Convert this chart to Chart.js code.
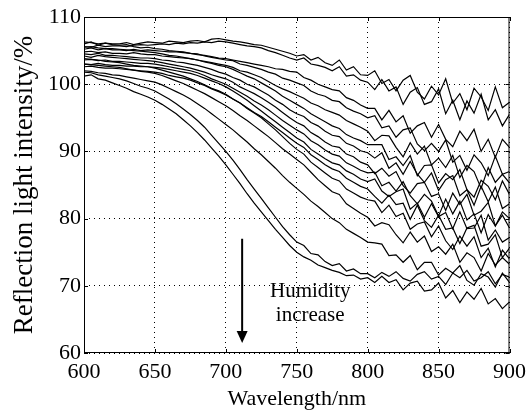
<!DOCTYPE html>
<html>
<head>
<meta charset="utf-8">
<script src="https://cdn.jsdelivr.net/npm/chart.js@4.4.1/dist/chart.umd.min.js"></script>
<style>
  html, body { margin: 0; padding: 0; background: #fff; }
  #wrap { width: 532px; height: 413px; }
</style>
</head>
<body>
<div id="wrap"><canvas id="chart" width="532" height="413"></canvas></div>
<script>
// wavelength samples (nm)
const wavelengths = [
  600, 605, 610, 615, 620, 625, 630, 635, 640, 645,
  650, 655, 660, 665, 670, 675, 680, 685, 690, 695,
  700, 705, 710, 715, 720, 725, 730, 735, 740, 745,
  750, 755, 760, 765, 770, 775, 780, 785, 790, 795,
  800, 805, 810, 815, 820, 825, 830, 835, 840, 845,
  850, 855, 860, 865, 870, 875, 880, 885, 890, 895,
  900
];

const xTicks = [600, 650, 700, 750, 800, 850, 900];
const yTicks = [60, 70, 80, 90, 100, 110];

// reflection intensity (%), one array per humidity level, low -> high humidity
const curve1 = [
  106.0, 106.3, 105.8, 106.1, 106.0, 106.0, 106.2, 105.9, 106.1, 106.3,
  106.2, 106.1, 106.4, 106.3, 106.2, 106.4, 106.5, 106.3, 106.7, 106.8,
  106.6, 106.4, 106.3, 106.1, 105.9, 105.8, 105.5, 105.2, 104.9, 104.6,
  104.2, 104.4, 103.6, 104.0, 103.2, 102.8, 103.6, 102.1, 102.6, 101.4,
  101.3, 102.0, 100.1, 100.7, 99.0, 100.6, 101.3, 98.8, 97.8, 99.7,
  98.4, 100.8, 97.2, 98.6, 96.2, 99.4, 98.1, 96.1, 99.6, 96.5,
  97.3
];
const curve2 = [
  105.6, 105.5, 105.8, 105.6, 105.7, 105.7, 105.6, 105.8, 105.9, 105.8,
  105.9, 106.0, 105.9, 106.1, 106.0, 106.2, 106.1, 106.3, 106.2, 106.4,
  106.3, 106.1, 105.9, 105.7, 105.6, 105.4, 105.0, 104.7, 104.3, 103.9,
  103.6, 103.9, 103.0, 102.8, 102.5, 102.0, 102.6, 101.2, 101.4, 100.6,
  100.3, 99.2, 100.7, 99.0, 99.6, 97.0, 98.8, 99.5, 97.0, 97.4,
  99.3, 95.6, 97.6, 94.7, 97.5, 95.7, 98.5, 94.7, 96.2, 93.8,
  95.5
];
const curve3 = [
  105.2, 105.4, 105.1, 105.3, 105.1, 105.1, 105.0, 105.2, 105.0, 105.1,
  105.0, 104.9, 104.8, 104.8, 104.7, 104.6, 104.4, 104.3, 104.1, 103.9,
  103.8, 103.6, 103.4, 103.2, 103.0, 102.8, 102.6, 102.3, 102.2, 101.9,
  101.8, 101.0, 100.6, 100.0, 99.6, 99.2, 99.0, 98.0, 97.6, 96.9,
  96.4, 96.4, 94.7, 96.1, 94.4, 95.3, 92.7, 93.8, 94.3, 92.1,
  94.0, 91.8, 90.7, 93.0, 91.6, 93.3, 90.0, 91.8, 89.1, 91.8,
  90.6
];
const curve4 = [
  106.3, 106.2, 106.0, 106.1, 105.9, 105.8, 105.9, 105.6, 105.4, 105.5,
  105.3, 105.2, 105.0, 104.9, 104.8, 104.6, 104.5, 104.2, 104.0, 103.8,
  103.6, 103.5, 103.0, 102.8, 102.5, 102.2, 101.8, 101.5, 100.9, 100.6,
  100.2, 99.8, 99.0, 98.5, 98.2, 97.6, 97.4, 96.5, 96.0, 95.6,
  95.0, 95.3, 93.5, 93.8, 92.1, 93.2, 93.5, 91.1, 90.1, 91.2,
  90.0, 91.7, 88.4, 89.4, 87.2, 89.5, 88.3, 86.4, 89.3, 86.6,
  87.0
];
const curve5 = [
  104.8, 104.9, 104.7, 104.8, 104.6, 104.6, 104.5, 104.7, 104.5, 104.4,
  104.4, 104.2, 104.1, 104.0, 103.9, 103.8, 103.6, 103.4, 103.2, 103.0,
  102.8, 102.5, 102.0, 101.8, 101.4, 101.0, 100.4, 99.8, 99.3, 98.9,
  98.4, 97.9, 97.2, 96.8, 96.2, 95.8, 95.4, 94.6, 94.1, 93.6,
  93.0, 91.6, 92.4, 92.3, 90.6, 89.2, 91.3, 89.6, 90.8, 88.0,
  89.0, 87.6, 89.4, 86.1, 87.9, 87.0, 84.5, 87.6, 85.4, 86.6,
  85.3
];
const curve6 = [
  105.5, 105.6, 105.4, 105.3, 105.3, 105.2, 105.1, 105.0, 104.9, 104.8,
  104.7, 104.5, 104.3, 104.2, 104.0, 103.8, 103.6, 103.3, 103.1, 102.8,
  102.6, 102.2, 101.7, 101.2, 100.8, 100.2, 99.6, 99.0, 98.2, 97.6,
  97.0, 96.4, 95.6, 95.0, 94.4, 93.8, 93.4, 92.5, 92.0, 91.6,
  91.0, 91.0, 91.0, 88.8, 89.2, 87.9, 89.4, 86.4, 87.9, 88.0,
  85.3, 86.7, 85.8, 87.3, 84.3, 83.2, 85.7, 84.8, 82.8, 85.6,
  83.6
];
const curve7 = [
  104.5, 104.4, 104.6, 104.3, 104.3, 104.2, 104.1, 104.0, 103.9, 103.9,
  103.8, 103.6, 103.5, 103.3, 103.2, 103.0, 102.8, 102.5, 102.2, 101.8,
  101.5, 101.0, 100.6, 100.0, 99.6, 99.0, 98.4, 97.6, 97.0, 96.2,
  95.6, 95.2, 94.3, 93.8, 93.0, 92.4, 92.2, 91.2, 90.8, 90.1,
  89.8, 89.0, 89.8, 87.5, 88.3, 86.6, 88.5, 86.6, 85.4, 86.8,
  84.2, 85.8, 86.4, 83.4, 84.3, 82.0, 84.8, 82.5, 84.7, 81.5,
  82.2
];
const curve8 = [
  104.2, 104.0, 104.3, 104.1, 104.0, 103.9, 103.8, 103.7, 103.6, 103.5,
  103.4, 103.2, 103.0, 102.8, 102.6, 102.4, 102.1, 101.8, 101.4, 101.1,
  100.8, 100.3, 99.6, 99.1, 98.6, 98.0, 97.3, 96.6, 95.8, 95.0,
  94.3, 93.8, 92.8, 92.2, 91.4, 90.8, 90.6, 89.6, 89.2, 88.4,
  88.0, 86.7, 87.5, 86.3, 87.0, 84.9, 83.8, 85.2, 85.4, 83.3,
  83.7, 81.2, 83.8, 82.1, 83.6, 80.5, 81.1, 82.4, 78.9, 81.0,
  80.0
];
const curve9 = [
  103.6, 103.7, 103.5, 103.6, 103.4, 103.4, 103.3, 103.2, 103.1, 103.1,
  103.0, 102.8, 102.6, 102.4, 102.2, 102.0, 101.7, 101.3, 100.8, 100.4,
  100.0, 99.4, 98.8, 98.2, 97.5, 96.9, 96.2, 95.4, 94.6, 93.9,
  93.2, 92.6, 91.6, 91.0, 90.2, 89.6, 89.3, 88.3, 87.8, 87.2,
  86.8, 86.9, 84.9, 85.4, 84.1, 85.5, 83.4, 82.2, 83.6, 82.6,
  80.4, 82.9, 80.7, 82.6, 79.8, 80.7, 77.9, 80.6, 78.9, 80.5,
  78.6
];
const curve10 = [
  103.0, 102.9, 103.1, 102.9, 102.8, 102.8, 102.7, 102.7, 102.6, 102.6,
  102.5, 102.4, 102.2, 102.0, 101.8, 101.6, 101.3, 100.9, 100.5, 100.1,
  99.6, 99.0, 98.3, 97.6, 96.8, 96.0, 95.2, 94.4, 93.6, 92.8,
  92.0, 91.4, 90.3, 89.6, 88.9, 88.3, 88.0, 87.1, 86.6, 85.9,
  85.5, 85.9, 84.1, 83.3, 84.0, 84.4, 81.4, 82.3, 80.2, 82.2,
  80.3, 80.9, 78.5, 81.0, 78.5, 78.6, 80.5, 76.8, 78.3, 76.5,
  77.2
];
const curve11 = [
  102.6, 102.7, 102.5, 102.4, 102.4, 102.3, 102.2, 102.1, 102.0, 101.9,
  101.8, 101.6, 101.3, 101.1, 100.9, 100.6, 100.2, 99.8, 99.3, 98.9,
  98.4, 97.8, 97.2, 96.5, 95.8, 95.2, 94.4, 93.6, 92.8, 92.0,
  91.2, 90.6, 89.5, 88.8, 88.0, 87.4, 87.0, 86.0, 85.4, 84.8,
  84.4, 83.3, 82.3, 83.5, 82.1, 82.3, 79.9, 82.0, 79.7, 78.7,
  80.5, 78.4, 78.6, 76.3, 78.6, 79.0, 75.9, 76.2, 77.6, 74.2,
  75.6
];
const curve12 = [
  103.8, 103.7, 103.6, 103.4, 103.3, 103.2, 103.0, 102.8, 102.7, 102.6,
  102.4, 102.1, 101.8, 101.5, 101.2, 100.8, 100.4, 99.9, 99.4, 99.0,
  98.5, 97.8, 97.2, 96.4, 95.7, 95.0, 94.1, 93.2, 92.2, 91.2,
  90.3, 89.6, 88.4, 87.6, 86.8, 86.0, 85.6, 84.4, 83.8, 83.2,
  82.8, 82.6, 80.9, 82.0, 80.3, 80.8, 78.4, 79.2, 79.5, 77.3,
  78.9, 76.7, 75.4, 77.4, 75.9, 77.3, 74.2, 75.6, 72.8, 75.3,
  74.0
];
const curve13 = [
  103.0, 102.9, 102.8, 102.7, 102.6, 102.5, 102.3, 102.1, 101.9, 101.8,
  101.6, 101.3, 100.9, 100.5, 100.1, 99.6, 99.1, 98.6, 98.0, 97.4,
  96.8, 96.1, 95.3, 94.6, 93.8, 93.0, 92.2, 91.3, 90.4, 89.6,
  88.8, 88.0, 86.9, 85.8, 84.9, 84.0, 83.6, 82.2, 81.5, 80.8,
  80.2, 78.9, 79.4, 79.1, 77.6, 76.4, 78.0, 76.5, 77.4, 75.1,
  75.8, 74.7, 76.2, 73.5, 74.9, 74.2, 72.2, 74.8, 73.1, 74.2,
  73.2
];
const curve14 = [
  102.0, 101.9, 101.7, 101.6, 101.4, 101.3, 101.1, 100.9, 100.7, 100.5,
  100.3, 99.9, 99.4, 98.9, 98.4, 97.8, 97.1, 96.4, 95.6, 94.8,
  94.0, 93.2, 92.3, 91.4, 90.4, 89.5, 88.5, 87.5, 86.4, 85.4,
  84.5, 83.6, 82.6, 81.8, 80.9, 80.0, 79.4, 78.4, 77.8, 77.2,
  76.5, 76.4, 76.2, 74.5, 74.6, 73.5, 74.5, 72.4, 73.5, 73.5,
  71.6, 72.6, 71.9, 73.0, 70.8, 70.1, 71.8, 71.3, 69.8, 71.9,
  70.5
];
const curve15 = [
  101.8, 101.7, 101.4, 101.2, 101.0, 100.8, 100.5, 100.1, 99.7, 99.4,
  99.0, 98.4, 97.8, 97.1, 96.3, 95.5, 94.6, 93.6, 92.4, 91.2,
  90.0, 88.7, 87.3, 85.8, 84.4, 83.0, 81.6, 80.2, 78.8, 77.6,
  76.5, 76.0, 74.8, 74.6, 73.6, 73.0, 73.3, 72.2, 72.5, 71.8,
  71.8, 71.2, 72.0, 71.4, 72.1, 71.1, 70.7, 71.7, 72.1, 71.0,
  71.4, 70.2, 71.9, 71.2, 72.3, 70.7, 71.2, 72.1, 70.3, 71.7,
  71.3
];
const curve16 = [
  101.2, 101.4, 100.8, 100.6, 100.2, 99.8, 99.4, 98.9, 98.5, 98.1,
  97.6, 97.0, 96.3, 95.6, 94.7, 93.8, 92.8, 91.7, 90.5, 89.3,
  88.0, 86.6, 85.2, 83.7, 82.3, 81.0, 79.7, 78.4, 77.2, 76.0,
  75.0, 74.3, 73.8, 73.1, 72.7, 72.3, 72.0, 71.5, 71.6, 71.0,
  71.2, 70.5, 71.4, 70.5, 70.9, 69.4, 70.4, 70.7, 69.2, 69.4,
  70.4, 68.2, 69.3, 67.5, 69.1, 68.0, 69.6, 67.3, 68.1, 66.6,
  67.6
];

const curves = [
  curve1, curve2, curve3, curve4, curve5, curve6, curve7, curve8,
  curve9, curve10, curve11, curve12, curve13, curve14, curve15, curve16,
];

const serif = '"Liberation Serif", "Times New Roman", serif';

// box frame, inward tick marks, arrow and note
const framePlugin = {
  id: 'frame',
  afterDraw(chart) {
    const { ctx, chartArea: a, scales } = chart;
    const x = scales.x;
    const y = scales.y;
    ctx.save();
    ctx.strokeStyle = '#000';
    ctx.lineWidth = 1;
    ctx.strokeRect(a.left + 0.5, a.top + 0.5, a.right - a.left - 1, a.bottom - a.top - 1);

    ctx.beginPath();
    xTicks.forEach((v) => {
      const px = Math.round(x.getPixelForValue(v)) + 0.5;
      ctx.moveTo(px, a.bottom);
      ctx.lineTo(px, a.bottom - 4);
      ctx.moveTo(px, a.top);
      ctx.lineTo(px, a.top + 4);
    });
    yTicks.forEach((v) => {
      const py = Math.round(y.getPixelForValue(v)) + 0.5;
      ctx.moveTo(a.left, py);
      ctx.lineTo(a.left + 4, py);
      ctx.moveTo(a.right, py);
      ctx.lineTo(a.right - 4, py);
    });
    ctx.stroke();

    // humidity arrow
    const ax = x.getPixelForValue(711.5);
    const top = y.getPixelForValue(77);
    const tip = y.getPixelForValue(61.5);
    ctx.lineWidth = 2;
    ctx.beginPath();
    ctx.moveTo(ax, top);
    ctx.lineTo(ax, tip - 8);
    ctx.stroke();
    ctx.fillStyle = '#000';
    ctx.beginPath();
    ctx.moveTo(ax - 5.5, tip - 12);
    ctx.lineTo(ax + 5.5, tip - 12);
    ctx.lineTo(ax, tip);
    ctx.closePath();
    ctx.fill();

    ctx.font = '21px ' + serif;
    ctx.textAlign = 'center';
    ctx.textBaseline = 'alphabetic';
    const tx = x.getPixelForValue(759.5);
    ctx.fillText('Humidity', tx, y.getPixelForValue(68.3));
    ctx.fillText('increase', tx, y.getPixelForValue(64.8));
    ctx.restore();
  },
};

new Chart(document.getElementById('chart'), {
  type: 'line',
  data: {
    datasets: curves.map((c, i) => ({
      label: 'h' + (i + 1),
      data: wavelengths.map((w, j) => ({ x: w, y: c[j] })),
      borderColor: '#000',
      borderWidth: 1.2,
      pointRadius: 0,
      tension: 0,
      fill: false,
    })),
  },
  options: {
    responsive: false,
    animation: false,
    layout: { padding: { top: 17, right: 21, left: 0, bottom: 0 } },
    plugins: {
      legend: { display: false },
      tooltip: { enabled: false },
    },
    scales: {
      x: {
        type: 'linear',
        min: 600,
        max: 900,
        afterBuildTicks: (s) => { s.ticks = xTicks.map((v) => ({ value: v })); },
        afterFit: (s) => { s.height = 60; },
        grid: { color: '#000', lineWidth: 1, drawTicks: false },
        border: { display: false, dash: [1, 4] },
        ticks: { color: '#000', padding: 6, maxRotation: 0, font: { family: serif, size: 22 } },
        title: {
          display: true,
          text: 'Wavelength/nm',
          color: '#000',
          font: { family: serif, size: 22 },
          padding: { top: 0, bottom: 1 },
        },
      },
      y: {
        min: 60,
        max: 110,
        afterBuildTicks: (s) => { s.ticks = yTicks.map((v) => ({ value: v })); },
        afterFit: (s) => { s.width = 84; },
        grid: { color: '#000', lineWidth: 1, drawTicks: false },
        border: { display: false, dash: [1, 4] },
        ticks: { color: '#000', padding: 3, font: { family: serif, size: 22 } },
        title: {
          display: true,
          text: 'Reflection light intensity/%',
          color: '#000',
          font: { family: serif, size: 27 },
          padding: { top: 9, bottom: 0 },
        },
      },
    },
  },
  plugins: [framePlugin],
});
</script>
</body>
</html>
